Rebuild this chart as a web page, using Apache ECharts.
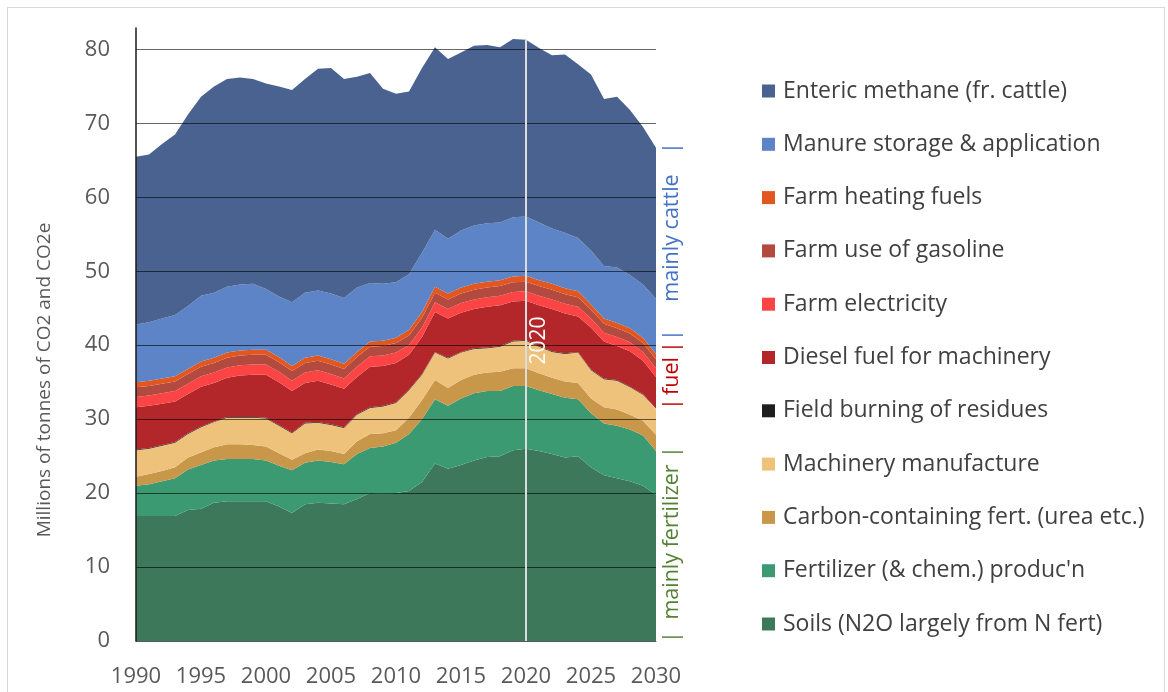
<!DOCTYPE html>
<html>
<head>
<meta charset="utf-8">
<script src="https://cdn.jsdelivr.net/npm/echarts@6/dist/echarts.min.js"></script>
<style>
html, body { margin: 0; padding: 0; background: #fff; }
#wrap { position: relative; width: 1168px; height: 692px; }
#frame { position: absolute; left: 7px; top: 7px; width: 1158px; height: 690px; border: 1px solid #d9d9d9; box-sizing: border-box; }
#main { position: absolute; left: 0; top: 0; width: 1168px; height: 692px; }
</style>
</head>
<body>
<div id="wrap">
  <div id="frame"></div>
  <div id="main"></div>
</div>
<script>
// years on the x axis
var years = ["1990","1991","1992","1993","1994","1995","1996","1997","1998","1999",
  "2000","2001","2002","2003","2004","2005","2006","2007","2008","2009",
  "2010","2011","2012","2013","2014","2015","2016","2017","2018","2019",
  "2020","2021","2022","2023","2024","2025","2026","2027","2028","2029","2030"];

// Mt CO2e per source (bottom of stack first)
var soils = [16.9,16.9,16.9,16.9,17.7,17.9,18.7,18.9,18.9,18.9,
  18.9,18.2,17.3,18.5,18.7,18.6,18.5,19.2,20.0,19.9,
  20.0,20.3,21.5,24.0,23.3,23.8,24.4,24.9,25.0,25.8,
  26.0,25.7,25.3,24.8,25.0,23.5,22.4,22.0,21.6,21.0,19.8];
var fertProd = [4.1,4.3,4.7,5.1,5.5,5.9,5.7,5.7,5.7,5.7,
  5.5,5.5,5.8,5.6,5.7,5.6,5.4,6.1,6.1,6.4,
  6.8,7.7,8.5,8.7,8.5,9.0,9.1,8.9,8.8,8.7,
  8.5,8.2,8.1,8.1,7.7,7.3,7.0,7.1,7.0,6.8,5.9];
var carbonFert = [1.2,1.4,1.4,1.5,1.6,1.7,1.8,2.0,2.0,1.9,
  1.9,1.7,1.4,1.3,1.5,1.5,1.4,1.7,1.9,1.8,
  1.7,2.2,2.6,2.6,2.4,2.5,2.5,2.5,2.6,2.4,
  2.4,2.3,2.2,2.2,2.2,2.0,2.2,2.2,2.0,2.0,2.2];
var machinery = [3.6,3.4,3.4,3.3,3.2,3.4,3.4,3.6,3.6,3.7,
  3.8,3.7,3.6,4.0,3.6,3.5,3.5,3.6,3.5,3.6,
  3.7,3.7,3.4,3.7,4.0,3.7,3.5,3.3,3.4,3.6,
  3.7,3.6,3.5,3.7,4.1,3.8,3.8,3.9,3.7,3.5,3.4];
var fieldBurning = [0.1,0.1,0.1,0.1,0.1,0.1,0.1,0.1,0.1,0.1,
  0.1,0.1,0.1,0.1,0.1,0.1,0.1,0.1,0.1,0.1,
  0.1,0.1,0.1,0.1,0.1,0.1,0.1,0.1,0.1,0.1,
  0.1,0.1,0.1,0.1,0.1,0.1,0.1,0.1,0.1,0.1,0.1];
var diesel = [5.7,5.7,5.6,5.5,5.3,5.4,5.2,5.3,5.6,5.7,
  5.8,5.8,5.6,5.4,5.6,5.4,5.2,5.0,5.5,5.4,
  5.3,4.7,5.0,5.4,5.3,5.3,5.3,5.5,5.5,5.3,
  5.3,5.5,5.7,5.4,4.8,5.7,5.0,4.6,4.8,4.5,4.3];
var electricity = [1.4,1.4,1.4,1.4,1.4,1.4,1.4,1.4,1.4,1.4,
  1.4,1.4,1.4,1.4,1.4,1.4,1.4,1.4,1.4,1.4,
  1.4,1.3,1.3,1.3,1.3,1.3,1.3,1.3,1.3,1.3,
  1.3,1.3,1.3,1.3,1.3,1.2,1.2,1.2,1.2,1.2,1.2];
var gasoline = [1.3,1.3,1.3,1.3,1.3,1.3,1.3,1.3,1.3,1.3,
  1.3,1.3,1.3,1.3,1.3,1.3,1.3,1.3,1.3,1.3,
  1.3,1.3,1.3,1.3,1.3,1.3,1.3,1.3,1.3,1.3,
  1.3,1.3,1.3,1.3,1.3,1.2,1.2,1.2,1.2,1.2,1.2];
var heating = [0.7,0.7,0.7,0.7,0.7,0.7,0.7,0.7,0.7,0.7,
  0.7,0.7,0.7,0.7,0.7,0.7,0.7,0.7,0.7,0.7,
  0.7,0.8,0.8,0.8,0.8,0.8,0.8,0.8,0.8,0.8,
  0.8,0.8,0.8,0.8,0.8,0.7,0.7,0.7,0.7,0.7,0.7];
var manure = [7.8,7.9,8.1,8.3,8.5,8.9,8.8,8.9,8.9,8.9,
  8.2,8.2,8.6,8.8,8.8,8.9,8.9,8.7,7.9,7.7,
  7.5,7.5,8.0,7.7,7.4,7.7,7.9,7.9,7.8,8.0,
  8.0,7.8,7.5,7.5,7.2,7.3,7.1,7.5,7.2,7.2,7.5];
var enteric = [22.7,22.7,23.6,24.4,25.9,26.9,27.9,28.1,28.0,27.7,
  27.8,28.4,28.7,28.9,30.0,30.5,29.6,28.5,28.4,26.4,
  25.5,24.7,25.0,24.7,24.3,24.1,24.3,24.1,23.7,24.1,
  23.9,23.6,23.4,24.1,23.5,23.8,22.6,23.1,22.3,21.3,20.4];

var markYear = "2020";

var layers = [
  { name: "Soils (N2O largely from N fert)", data: soils, color: "#3d785a" },
  { name: "Fertilizer (& chem.) produc'n", data: fertProd, color: "#3c9a72" },
  { name: "Carbon-containing fert. (urea etc.)", data: carbonFert, color: "#c9974a" },
  { name: "Machinery manufacture", data: machinery, color: "#eec27a" },
  { name: "Field burning of residues", data: fieldBurning, color: "#1e1e1e" },
  { name: "Diesel fuel for machinery", data: diesel, color: "#b3272a" },
  { name: "Farm electricity", data: electricity, color: "#fc4444" },
  { name: "Farm use of gasoline", data: gasoline, color: "#b34a40" },
  { name: "Farm heating fuels", data: heating, color: "#e2571f" },
  { name: "Manure storage & application", data: manure, color: "#5c84c6" },
  { name: "Enteric methane (fr. cattle)", data: enteric, color: "#4a628f" }
];

var FONT = "Open Sans";
var myChart = echarts.init(document.getElementById("main"));

var series = layers.map(function (l) {
  return {
    name: l.name,
    type: "line",
    stack: "total",
    data: l.data,
    symbol: "none",
    lineStyle: { width: 0 },
    areaStyle: { color: l.color, opacity: 1 },
    itemStyle: { color: l.color },
    z: 2,
    animation: false
  };
});

// stack height at 2020, so the year marker stops at the top of the areas
var idx = years.indexOf(markYear);
var topAt2020 = 0;
layers.forEach(function (l) { topAt2020 += l.data[idx]; });

series.push({
  name: "marker",
  type: "line",
  data: [],
  z: 5,
  animation: false,
  markLine: {
    silent: true,
    symbol: "none",
    animation: false,
    lineStyle: { color: "#dcdcdc", width: 2, type: "solid" },
    label: {
      show: true,
      position: "middle",
      formatter: markYear,
      color: "#fff",
      fontFamily: FONT,
      fontSize: 21,
      distance: -24
    },
    data: [[{ coord: [markYear, 0] }, { coord: [markYear, topAt2020] }]]
  }
});

// side notes: [text, colour, x, y]
var notes = [
  ["|", "#4472c4", 672, 148],
  ["mainly cattle", "#4472c4", 672, 238],
  ["|", "#4472c4", 672, 335],
  ["|", "#c00000", 672, 347],
  ["fuel", "#c00000", 672, 376],
  ["|", "#c00000", 672, 404],
  ["|", "#548235", 672, 452],
  ["mainly fertilizer", "#548235", 672, 542],
  ["|", "#548235", 672, 637]
];

var graphics = [{
  type: "text", x: 45, y: 380, rotation: Math.PI / 2,
  style: { text: "Millions of tonnes of CO2 and CO2e", fill: "#595959", font: "19px '" + FONT + "'", align: "center", verticalAlign: "middle" }
}];
notes.forEach(function (n) {
  graphics.push({
    type: "text", x: n[2], y: n[3], rotation: Math.PI / 2,
    style: { text: n[0], fill: n[1], font: "21.5px '" + FONT + "'", align: "center", verticalAlign: "middle" }
  });
});

var option = {
  animation: false,
  textStyle: { fontFamily: FONT },
  grid: { left: 136, right: 512, top: 28, bottom: 51, containLabel: false },
  legend: {
    orient: "vertical",
    left: 762,
    top: 79.5,
    padding: 0,
    itemWidth: 13,
    itemHeight: 13,
    itemGap: 30.3,
    icon: "rect",
    textStyle: { color: "#404040", fontSize: 23, fontFamily: FONT, lineHeight: 23, padding: [0, 0, 0, 3] },
    data: layers.map(function (l) { return l.name; }).reverse()
  },
  xAxis: {
    type: "category",
    boundaryGap: false,
    data: years,
    axisLine: { show: true, lineStyle: { color: "#595959", width: 1 } },
    axisTick: { show: false },
    axisLabel: { interval: 4, color: "#595959", fontSize: 22, fontFamily: FONT, margin: 25 },
    splitLine: { show: false }
  },
  yAxis: {
    type: "value",
    min: 0,
    max: 82.9,
    interval: 10,
    z: 3,
    axisLine: { show: true, lineStyle: { color: "#1a1a1a", width: 1.5 } },
    axisTick: { show: false },
    axisLabel: { color: "#595959", fontSize: 22, fontFamily: FONT, margin: 26, showMaxLabel: false },
    splitLine: { show: true, showMaxLine: false, showMinLine: false, lineStyle: { color: "rgba(0,0,0,0.6)", width: 1 } }
  },
  graphic: graphics,
  series: series
};

myChart.setOption(option);
</script>
</body>
</html>
